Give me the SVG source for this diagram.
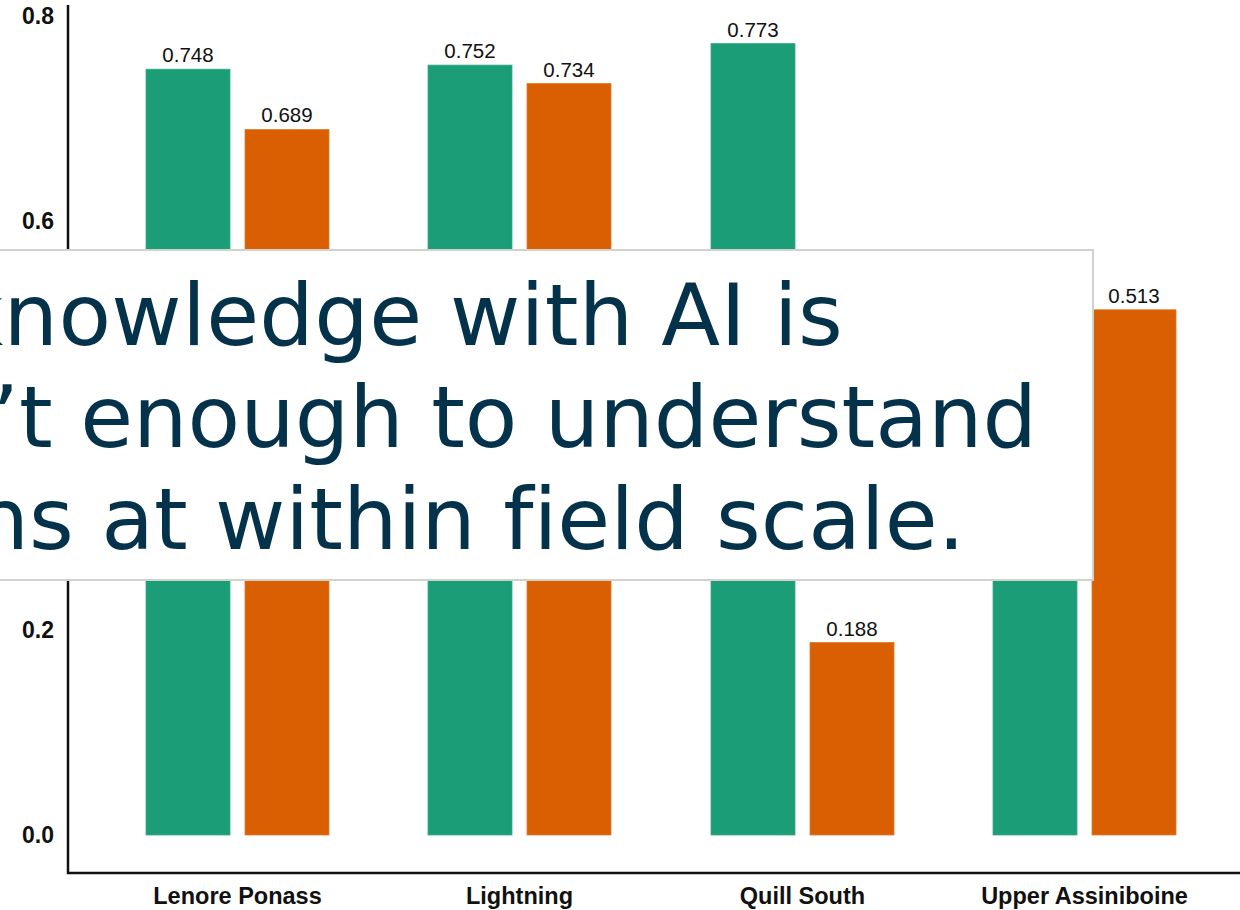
<svg xmlns="http://www.w3.org/2000/svg" width="1240" height="910" viewBox="0 0 1240 910">
<style>
.g{fill:#1b9e77;stroke:#3aa988;stroke-width:0.8}
.o{fill:#d95f02;stroke:#dd7a2e;stroke-width:0.8}
.v{font-family:"Liberation Sans",Arial,sans-serif;font-size:20.5px;fill:#111;text-anchor:middle}
.t{font-family:"Liberation Sans",Arial,sans-serif;font-size:23px;font-weight:bold;fill:#111;text-anchor:end}
.c{font-family:"Liberation Sans",Arial,sans-serif;font-size:23.5px;font-weight:bold;fill:#111;text-anchor:middle}
.ax{stroke:#111;stroke-width:2.5;fill:none}
.big{font-family:"DejaVu Sans",Verdana,sans-serif;font-size:86px;fill:#04324a;text-anchor:end;font-variant-ligatures:none;font-feature-settings:"liga" 0}
</style>
<rect width="1240" height="910" fill="#fff"/>
<g id="axes">
<path class="ax" d="M68,5 V873 H1240"/>
<text class="t" x="54" y="24">0.8</text>
<text class="t" x="54" y="229">0.6</text>
<text class="t" x="54" y="638">0.2</text>
<text class="t" x="54" y="843">0.0</text>
</g>
<g id="lenore-ponass">
<rect class="g" x="146" y="69.2" width="84" height="765.8"/>
<rect class="o" x="245" y="129.6" width="84" height="705.4"/>
<text class="v" x="188" y="62">0.748</text>
<text class="v" x="287" y="122">0.689</text>
<text class="c" x="237.5" y="904">Lenore Ponass</text>
</g>
<g id="lightning">
<rect class="g" x="428" y="65.1" width="84" height="769.9"/>
<rect class="o" x="527" y="83.6" width="84" height="751.4"/>
<text class="v" x="470" y="58">0.752</text>
<text class="v" x="569" y="77">0.734</text>
<text class="c" x="519.5" y="904">Lightning</text>
</g>
<g id="quill-south">
<rect class="g" x="711" y="43.6" width="84" height="791.4"/>
<rect class="o" x="810" y="642.5" width="84" height="192.5"/>
<text class="v" x="753" y="37">0.773</text>
<text class="v" x="852" y="636">0.188</text>
<text class="c" x="802.5" y="904">Quill South</text>
</g>
<g id="upper-assiniboine">
<rect class="g" x="993" y="420" width="84" height="415"/>
<rect class="o" x="1092" y="309.8" width="84" height="525.2"/>
<text class="v" x="1134" y="303">0.513</text>
<text class="c" x="1084.5" y="904">Upper Assiniboine</text>
</g>
<g id="overlay">
<rect x="-10" y="250" width="1103" height="330" fill="#fff" stroke="#d2d2cc" stroke-width="2"/>
<text class="big" x="843" y="345" letter-spacing="0.3">knowledge with AI is</text>
<text class="big" x="1037" y="447">’t enough to understand</text>
<text class="big" x="965" y="549">ns at within field scale.</text>
</g>
</svg>
